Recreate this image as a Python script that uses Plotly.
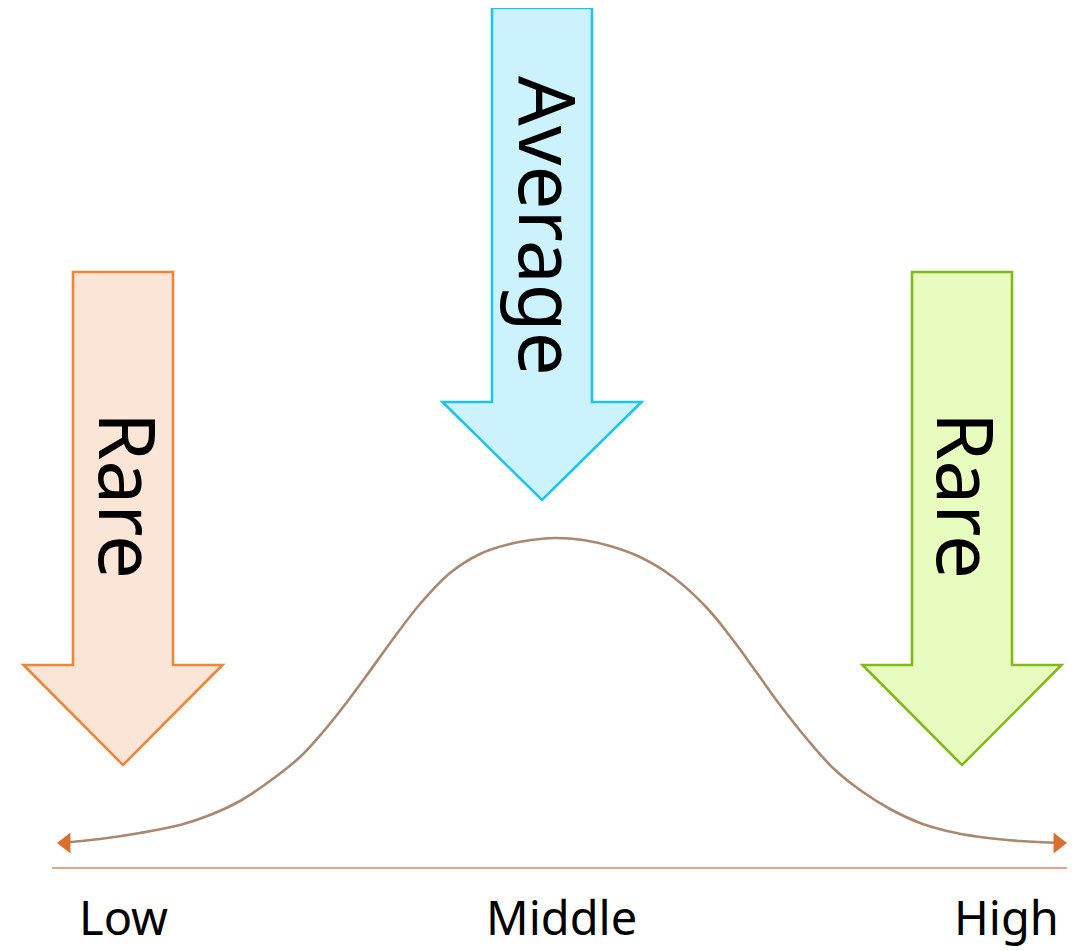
import plotly.graph_objects as go

# ---- data ----
# bell curve: x position along the scale, height above the baseline
curve_x = [62, 100, 140, 180, 210, 240, 270, 300, 323, 347, 367, 393, 420, 450, 480, 510,
           540, 556, 583, 610, 640, 673, 707, 733, 757, 780, 807, 833, 860, 890, 920, 947,
           980, 1020, 1062]
curve_y = [25, 29, 35, 43, 53, 67, 87, 111, 136, 166, 193, 229, 264, 295, 314, 324,
           329, 330, 328, 322, 311, 291, 260, 228, 195, 163, 129, 100, 78, 59, 45, 37,
           31, 27, 25]

scale_labels = ["Low", "Middle", "High"]
scale_label_x = [123, 561, 1006]

arrow_labels = ["Rare", "Average", "Rare"]

# ---- layout helpers ----
W, H = 1076, 951
OFF = 8      # page body margin of the html page
BASE = 868   # pixel row of the baseline


def Y(py):
    return BASE - py


fig = go.Figure()

# curve
fig.add_trace(go.Scatter(
    x=curve_x, y=curve_y, mode="lines",
    line=dict(color="#a98870", width=2.6, shape="spline", smoothing=1.0),
    hoverinfo="skip", showlegend=False))
# arrow tips at both ends of the curve
fig.add_trace(go.Scatter(
    x=[curve_x[0] + 4, curve_x[-1] - 4], y=[curve_y[0], curve_y[-1]], mode="markers",
    marker=dict(symbol=["triangle-left", "triangle-right"], size=18, color="#d8712f",
                line=dict(width=0)),
    hoverinfo="skip", showlegend=False))


def arrow_path(cx, top, shaft_w, head_w, head_top, tip):
    pts = [(cx - shaft_w / 2, top), (cx + shaft_w / 2, top), (cx + shaft_w / 2, head_top),
           (cx + head_w / 2, head_top), (cx, tip), (cx - head_w / 2, head_top),
           (cx - shaft_w / 2, head_top)]
    return "M " + " L ".join(f"{x},{Y(y)}" for x, y in pts) + " Z"


arrows = [
    dict(cx=123, top=272, head_top=665, tip=765, fill="#fbe5d7", line="#ee8538"),
    dict(cx=542, top=8, head_top=402, tip=500, fill="#ccf3fd", line="#1cc4f0"),
    dict(cx=962, top=272, head_top=665, tip=765, fill="#e9fcc0", line="#80b91a"),
]
shapes = []
for a in arrows:
    shapes.append(dict(type="path", xref="x", yref="y",
                       path=arrow_path(a["cx"], a["top"], 100, 199, a["head_top"], a["tip"]),
                       fillcolor=a["fill"], line=dict(color=a["line"], width=2.6),
                       layer="below"))
# baseline
shapes.append(dict(type="line", xref="x", yref="y", x0=52, x1=1067, y0=0, y1=0,
                   line=dict(color="#e3a888", width=2)))

annotations = []
text_pos = [(129, 495), (549, 226), (967, 495)]
for lab, (tx, ty) in zip(arrow_labels, text_pos):
    annotations.append(dict(x=tx, y=Y(ty), xref="x", yref="y", text=lab, showarrow=False,
                            textangle=90, xanchor="center", yanchor="middle",
                            font=dict(family="Noto Sans", size=78, color="#000000")))
for lab, lx in zip(scale_labels, scale_label_x):
    annotations.append(dict(x=lx, y=Y(917), xref="x", yref="y", text=lab, showarrow=False,
                            xanchor="center", yanchor="middle",
                            font=dict(family="Noto Sans", size=47, color="#000000")))

fig.update_layout(
    width=W - OFF, height=H - OFF, margin=dict(l=0, r=0, t=0, b=0),
    paper_bgcolor="white", plot_bgcolor="white",
    xaxis=dict(range=[OFF, W], visible=False, fixedrange=True),
    yaxis=dict(range=[Y(H), Y(OFF)], visible=False, fixedrange=True),
    shapes=shapes, annotations=annotations, showlegend=False,
)

fig.write_html("out.html")
